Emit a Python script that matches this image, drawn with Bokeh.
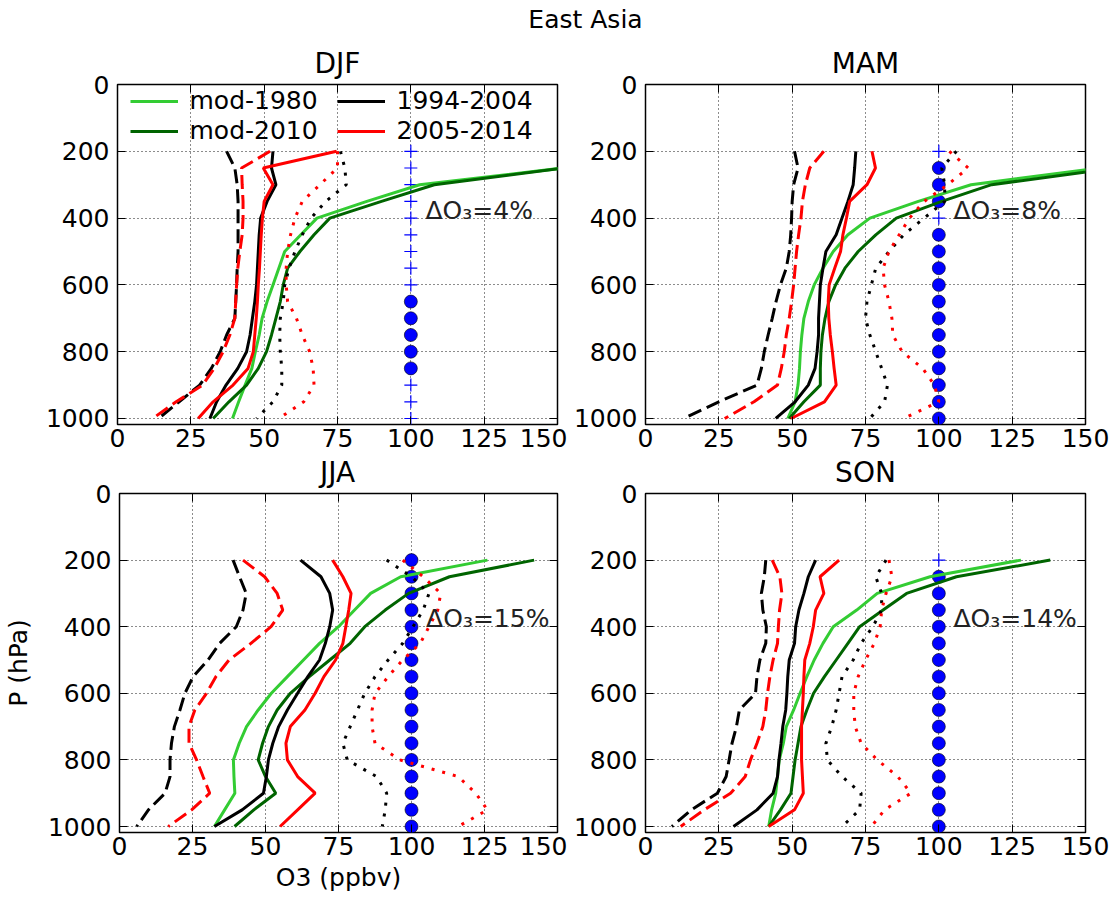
from bokeh.plotting import figure
from bokeh.models import Range1d, LinearAxis, FixedTicker, Legend, LegendItem, Label
from bokeh.layouts import column, row
from bokeh.embed import file_html
from bokeh.resources import INLINE

# ---------------- data ----------------
levels = [200, 250, 300, 350, 400, 450, 500, 550, 600, 650, 700, 750, 800, 850, 900, 950, 1000]
x_ticks = [0, 25, 50, 75, 100, 125, 150]
y_ticks = [0, 200, 400, 600, 800, 1000]
seasons = ["DJF", "MAM", "JJA", "SON"]
delta_text = ["\u0394O\u2083=4%", "\u0394O\u2083=8%", "\u0394O\u2083=15%", "\u0394O\u2083=14%"]
delta_x = 105
delta_p = 376
sig_x = 100

# DJF
djf_mod1980 = [210, 152, 103, 85, 68, 62.5, 57, 55, 53, 51, 49.3, 48.3, 47, 45.8, 43.5, 41.3, 39.2]
djf_mod2010 = [200, 152, 108, 90, 72.4, 67, 62.2, 58, 56.5, 55.5, 54, 52.5, 50.8, 48, 44, 38, 32.6]
djf_obs9404 = [53, 52.5, 54, 51, 48.8, 48.3, 48, 47.7, 47.4, 46.8, 46, 45.2, 44, 41, 37, 33.8, 31.5]
djf_obs0514 = [74.7, 49.7, 53, 50, 49.4, 49, 48.7, 48.4, 48, 47.7, 47.3, 46.8, 46.3, 44.5, 39.4, 32.6, 27.5]
djf_lo9404 = [37.2, 40, 40.8, 41.1, 41.1, 41.1, 41.1, 40.8, 40.6, 40.3, 40, 37.2, 35, 32, 28, 21, 14]
djf_lo0514 = [52, 42.3, 42.5, 42.8, 42.8, 42.5, 41.7, 41, 40.6, 40.3, 40, 38.3, 36, 33, 29, 20, 12]
djf_hi9404 = [76, 77.5, 78, 71, 66, 63, 60.5, 58.5, 57, 56.5, 55.5, 55.3, 55.5, 56, 56, 53, 47.4]
djf_hi0514 = [75, 75, 69, 63, 60.5, 59, 58, 57.5, 57.5, 58, 61, 63, 65.5, 66.7, 67, 63.5, 55]
djf_sig = [0, 0, 0, 0, 0, 0, 0, 0, 0, 1, 1, 1, 1, 1, 0, 0, 0]

# MAM
mam_mod1980 = [200, 155, 111, 93, 76.5, 69, 64, 60.5, 57.5, 55.5, 54, 53.3, 52.8, 52.5, 52, 51, 48.5]
mam_mod2010 = [210, 160, 118, 101, 85.5, 78.5, 72.5, 68, 64.8, 62.5, 61.2, 60.3, 59.8, 59.6, 59.6, 54, 49]
mam_obs9404 = [71.7, 71.3, 70.8, 69, 67, 65, 61.5, 60.5, 59.6, 59.3, 59, 59, 58.5, 57.8, 55.5, 51, 44.4]
mam_obs0514 = [77.2, 78.4, 75.5, 69.6, 68.5, 67.3, 66.5, 64.5, 62.6, 62.3, 62.5, 63, 63.7, 64.3, 65, 61, 49.6]
mam_lo9404 = [50.8, 52, 50.5, 50, 49.8, 49.5, 49, 48, 46, 44.5, 43.2, 41.8, 40.5, 39.5, 38, 25, 13]
mam_lo0514 = [60.8, 56, 54.5, 53.5, 53, 52.2, 51.5, 51, 50.5, 49.8, 49, 48, 47.3, 46.3, 45, 37, 27]
mam_hi9404 = [106, 101, 102, 102, 95, 88, 83, 78.5, 77, 75.5, 75, 76.5, 78.5, 80.5, 82.5, 81.5, 76.5]
mam_hi0514 = [103.6, 110, 103, 95, 90, 86.5, 83, 81, 81.5, 83, 84, 84.3, 87.5, 94.5, 98.5, 100, 88]
mam_sig = [0, 1, 1, 1, 0, 1, 1, 1, 1, 1, 1, 1, 1, 1, 1, 1, 1]

# JJA
jja_mod1980 = [126, 96.3, 86, 80.5, 75, 68.5, 63, 57.5, 52, 47.5, 43.5, 41, 39, 39.2, 39.5, 36, 32.5]
jja_mod2010 = [142, 113, 99, 91, 84, 79, 72, 65, 58.5, 54, 51, 49, 47.5, 50, 53.5, 46, 39.4]
jja_obs9404 = [62, 69, 72, 73, 72, 70.5, 68.5, 64.5, 61, 57.5, 54.5, 52.5, 51, 50.3, 49.3, 42, 32.5]
jja_obs0514 = [73, 76.5, 79.3, 78.5, 77.5, 76.5, 74, 70, 67, 63.5, 58.5, 57, 57.5, 61, 67, 61, 55]
jja_lo9404 = [38.9, 41.1, 43.4, 42.3, 40, 34.3, 30.3, 25.2, 22.4, 20.7, 18.8, 17.8, 17.3, 17.3, 15.6, 9.9, 5.9]
jja_lo0514 = [42.3, 49.7, 54, 55.9, 51.9, 45, 37.5, 33, 29.8, 25.8, 23.8, 23.8, 26.4, 28.6, 30.9, 24.7, 16.7]
jja_hi9404 = [91.5, 100, 106, 104, 100.5, 97, 92, 87.5, 84, 81.5, 79, 76.5, 78, 88, 91.5, 91, 90]
jja_hi0514 = [97, 104, 110, 109, 106, 103, 97, 92, 87.5, 86.5, 86.5, 87.5, 96, 116, 122, 126, 116]
jja_sig = [1, 1, 1, 1, 1, 1, 1, 1, 1, 1, 1, 1, 1, 1, 1, 1, 1]

# SON
son_mod1980 = [128, 97, 79, 72, 64, 60.5, 57.5, 55, 52.7, 50.5, 48, 47, 45.6, 45, 44.4, 43, 42]
son_mod2010 = [138, 106, 89, 81, 73, 69, 65, 61, 57.3, 55, 53, 52, 51, 50.3, 49.6, 46, 42]
son_obs9404 = [58, 55.5, 54, 52.3, 51.2, 50.8, 49, 48.5, 48.2, 47.8, 46.8, 46.2, 45.5, 45, 43.5, 38, 30]
son_obs0514 = [66, 59.5, 60.8, 58, 57.2, 56, 54.3, 54, 53.8, 53.5, 53.2, 53.2, 53.2, 53.5, 53.8, 50.8, 42]
son_lo9404 = [41, 40.5, 39.5, 40, 41.2, 41, 39, 38, 37.5, 32, 31, 29.5, 28.5, 27.5, 24.5, 15.6, 9]
son_lo0514 = [43.2, 45.8, 46.5, 45.7, 45.3, 45, 43.5, 42.4, 41.6, 41, 40, 38, 35.8, 34, 29, 20, 12]
son_hi9404 = [82, 78.5, 80.5, 80.5, 77.5, 73.5, 70.8, 67, 66, 65, 63.5, 61.5, 62, 67, 73.5, 73, 67]
son_hi0514 = [83, 84, 82, 80.5, 80, 78, 75, 72.5, 71, 71, 71.5, 73.5, 79, 86, 90.5, 81.5, 77]
son_sig = [0, 1, 1, 1, 1, 1, 1, 1, 1, 1, 1, 1, 1, 1, 1, 1, 1]

# ---------------- styling ----------------
FONT = "DejaVu Sans"
FS = "25px"
TITLE_FS = "28px"
LIGHT_GREEN = "#33cc33"
DARK_GREEN = "#006400"
LW = 3
PAGE_W = 1114

panel_data = [
    (djf_mod1980, djf_mod2010, djf_obs9404, djf_obs0514, djf_lo9404, djf_lo0514, djf_hi9404, djf_hi0514, djf_sig),
    (mam_mod1980, mam_mod2010, mam_obs9404, mam_obs0514, mam_lo9404, mam_lo0514, mam_hi9404, mam_hi0514, mam_sig),
    (jja_mod1980, jja_mod2010, jja_obs9404, jja_obs0514, jja_lo9404, jja_lo0514, jja_hi9404, jja_hi0514, jja_sig),
    (son_mod1980, son_mod2010, son_obs9404, son_obs0514, son_lo9404, son_lo0514, son_hi9404, son_hi0514, son_sig),
]


def make_panel(i, bl, br, bt, bb, fh, xlabel=None, ylabel=None, legend=False):
    fw = 440
    p = figure(width=bl + fw + br, height=bt + fh + bb, output_backend="svg",
               toolbar_location=None, x_range=Range1d(0, 150), y_range=Range1d(1018, 0),
               min_border_left=bl, min_border_right=br, min_border_top=bt, min_border_bottom=bb)
    p.background_fill_color = None
    p.border_fill_color = None
    p.outline_line_color = "black"
    p.outline_line_width = 1.5

    for ax, ticks in ((p.xaxis[0], x_ticks), (p.yaxis[0], y_ticks)):
        ax.ticker = FixedTicker(ticks=ticks)
        ax.major_label_text_font = FONT
        ax.major_label_text_font_size = FS
        ax.major_label_text_color = "black"
        ax.major_tick_in = 8
        ax.major_tick_out = 0
        ax.major_tick_line_color = "black"
        ax.minor_tick_line_color = None
        ax.axis_line_color = None
        ax.axis_label_text_font = FONT
        ax.axis_label_text_font_size = FS
        ax.axis_label_text_font_style = "normal"
        ax.axis_label_text_color = "black"
    p.xaxis.major_label_standoff = 4
    p.yaxis.major_label_standoff = 8
    if xlabel:
        p.xaxis.axis_label = xlabel
        p.xaxis.axis_label_standoff = 5
    if ylabel:
        p.yaxis.axis_label = ylabel
        p.yaxis.axis_label_standoff = 12

    for side, ticks in (("above", x_ticks), ("right", y_ticks)):
        ax = LinearAxis(ticker=FixedTicker(ticks=ticks),
                        major_label_overrides={t: "" for t in ticks},
                        major_label_text_font_size="1px", major_label_standoff=0,
                        major_tick_in=8, major_tick_out=0, minor_tick_line_color=None,
                        axis_line_color=None, major_tick_line_color="black")
        p.add_layout(ax, side)

    p.xgrid[0].ticker = FixedTicker(ticks=x_ticks)
    p.ygrid[0].ticker = FixedTicker(ticks=y_ticks)
    for g in (p.xgrid[0], p.ygrid[0]):
        g.grid_line_color = "black"
        g.grid_line_dash = "1 3"
        g.grid_line_width = 1
        g.grid_line_alpha = 0.9

    m80, m10, o94, o05, l94, l05, h94, h05, sig = panel_data[i]

    # significance markers
    yc = [lv for lv, s in zip(levels, sig) if s]
    yp = [lv for lv, s in zip(levels, sig) if not s]
    if yp:
        p.scatter([sig_x] * len(yp), yp, marker="cross", size=13, line_color="blue", line_width=1.2)
    if yc:
        p.scatter([sig_x] * len(yc), yc, marker="circle", size=13, fill_color="blue",
                  line_color="black", line_width=0.6)

    r80 = p.line(m80, levels, line_color=LIGHT_GREEN, line_width=LW)
    r10 = p.line(m10, levels, line_color=DARK_GREEN, line_width=LW)
    r94 = p.line(o94, levels, line_color="black", line_width=LW)
    r05 = p.line(o05, levels, line_color="red", line_width=LW)
    p.line(l94, levels, line_color="black", line_width=LW, line_dash="14 6")
    p.line(l05, levels, line_color="red", line_width=LW, line_dash="14 6")
    p.line(h94, levels, line_color="black", line_width=LW, line_dash="3 8")
    p.line(h05, levels, line_color="red", line_width=LW, line_dash="3 8")

    p.add_layout(Label(x=delta_x, y=delta_p, text=delta_text[i], text_font=FONT,
                       text_font_size=FS, text_baseline="middle", text_color="#222222"))

    if legend:
        specs = [("mod-1980", r80, 12.5, 309), ("mod-2010", r10, 12.5, 279),
                 ("1994-2004", r94, 219.5, 309), ("2005-2014", r05, 219.5, 279)]
        for lab, rr, lx, ly in specs:
            leg = Legend(items=[LegendItem(label=lab, renderers=[rr])], location=(lx, ly),
                         padding=0, margin=0, spacing=0, glyph_width=48, glyph_height=20,
                         label_standoff=12, background_fill_alpha=0, border_line_color=None,
                         label_text_font=FONT, label_text_font_size=FS,
                         label_text_color="black")
            p.add_layout(leg)
    return p


def text_strip(height, texts):
    """A transparent full-width strip carrying titles (x centre, y from strip bottom, text, size)."""
    f = figure(width=PAGE_W, height=height, output_backend="svg", toolbar_location=None,
               x_axis_type=None, y_axis_type=None, min_border=0,
               x_range=Range1d(0, 1), y_range=Range1d(0, 1))
    f.outline_line_color = None
    f.grid.visible = False
    f.background_fill_color = None
    f.border_fill_color = None
    for tx, ty, t, size in texts:
        f.add_layout(Label(x=tx, y=ty, x_units="screen", y_units="screen", text=t,
                           text_align="center", text_baseline="middle", text_font=FONT,
                           text_font_size=size, text_color="black"))
    return f


# strip 1: page y 0..82, overlaps top row by 16 px
top_strip = text_strip(82, [(585, 63, "East Asia", FS),
                            (337, 19.5, seasons[0], TITLE_FS),
                            (865, 19.5, seasons[1], TITLE_FS)])
top_strip.margin = (0, 0, -16, 0)
# strip 2: page y 450..490
mid_strip = text_strip(40, [(337, 18.5, seasons[2], TITLE_FS),
                            (865, 18.5, seasons[3], TITLE_FS)])
mid_strip.margin = (-7, 0, -15, 0)

p_djf = make_panel(0, 117, 10, 18, 33, 340, legend=True)
p_mam = make_panel(1, 78, 29, 18, 33, 340)
p_jja = make_panel(2, 117, 10, 18, 68, 339, xlabel="O3 (ppbv)", ylabel="P (hPa)")
p_son = make_panel(3, 78, 29, 18, 68, 339)

layout = column(top_strip, row(p_djf, p_mam), mid_strip, row(p_jja, p_son))

with open("out.html", "w") as f:
    f.write(file_html(layout, INLINE))
